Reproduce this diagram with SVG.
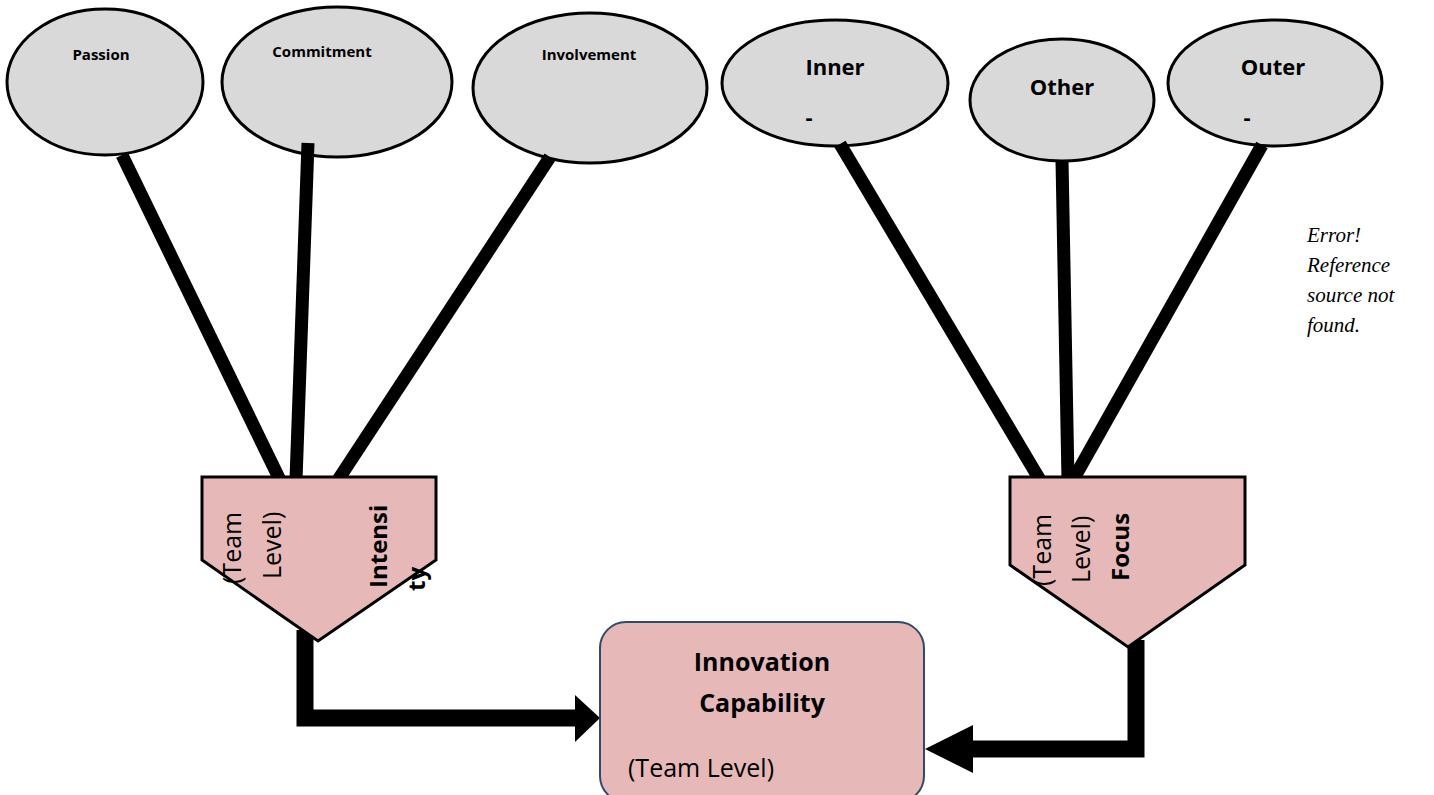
<svg xmlns="http://www.w3.org/2000/svg" width="1434" height="795" viewBox="0 0 1434 795">
<style>
.oval{fill:#d9d9d9;stroke:#000;stroke-width:3}
.pent{fill:#e6b9b8;stroke:#000;stroke-width:3}
.box{fill:#e6b9b8;stroke:#2f4a6b;stroke-width:2}
.sm{font-family:"Open Sans",sans-serif;font-weight:bold;font-size:15px;fill:#000;text-anchor:middle}
.lg{font-family:"Open Sans",sans-serif;font-weight:bold;font-size:22px;fill:#000;text-anchor:middle}
.rot{font-family:"Open Sans",sans-serif;font-size:25px;fill:#000}
.rotb{font-family:"Open Sans",sans-serif;font-size:24px;font-weight:bold;fill:#000}
.boxt{font-family:"Open Sans",sans-serif;font-weight:bold;font-size:25px;fill:#000;text-anchor:middle}
.err{font-family:"Liberation Serif",serif;font-style:italic;font-size:21px;fill:#000}
.ln{stroke:#000;stroke-width:13;fill:none}
.fl{stroke:#000;stroke-width:17;fill:none}
</style>
<g id="passion"><ellipse class="oval" cx="105" cy="82" rx="98" ry="73"/><text class="sm" x="101" y="60">Passion</text></g>
<g id="commitment"><ellipse class="oval" cx="337" cy="82" rx="115" ry="75"/><text class="sm" x="322" y="57">Commitment</text></g>
<g id="involvement"><ellipse class="oval" cx="590" cy="88" rx="117" ry="75"/><text class="sm" x="589" y="60">Involvement</text></g>
<g id="inner"><ellipse class="oval" cx="835" cy="83" rx="113" ry="63"/><text class="lg" x="835" y="75">Inner</text><text class="lg" x="809" y="125">-</text></g>
<g id="other"><ellipse class="oval" cx="1062" cy="100" rx="92" ry="61"/><text class="lg" x="1062" y="95">Other</text></g>
<g id="outer"><ellipse class="oval" cx="1275" cy="83" rx="107" ry="63"/><text class="lg" x="1273" y="75">Outer</text><text class="lg" x="1247" y="125">-</text></g>
<g id="connectors">
<line class="ln" x1="122" y1="155" x2="280" y2="480"/>
<line class="ln" x1="308" y1="143" x2="296" y2="480"/>
<line class="ln" x1="550" y1="157" x2="338" y2="480"/>
<line class="ln" x1="840" y1="144" x2="1040" y2="480"/>
<line class="ln" x1="1062" y1="160" x2="1068" y2="480"/>
<line class="ln" x1="1262" y1="145" x2="1073" y2="480"/>
<polyline class="fl" points="305,630 305,718 578,718"/>
<polygon points="575,695 600,718 575,742"/>
<polyline class="fl" points="1136,640 1136,749 970,749"/>
<polygon points="973,725 925,749 973,773"/>
</g>
<g id="intensity">
<polygon class="pent" points="202,477 436,477 436,560 318,641 202,560"/>
<text class="rot" transform="translate(241,584) rotate(-90)">(Team</text>
<text class="rot" transform="translate(281,579) rotate(-90)">Level)</text>
<text class="rotb" transform="translate(387,588) rotate(-90)">Intensi</text>
<text class="rotb" transform="translate(425,591) rotate(-90)">ty</text>
</g>
<g id="focus">
<polygon class="pent" points="1010,477 1245,477 1245,565 1128,647 1010,565"/>
<text class="rot" transform="translate(1051,586) rotate(-90)">(Team</text>
<text class="rot" transform="translate(1090,583) rotate(-90)">Level)</text>
<text class="rotb" transform="translate(1129,581) rotate(-90)">Focus</text>
</g>
<g id="innovation">
<rect class="box" x="600" y="622" width="324" height="180" rx="26"/>
<text class="boxt" x="762" y="671">Innovation</text>
<text class="boxt" x="762" y="712">Capability</text>
<text x="628" y="777" style="font-family:'Open Sans',sans-serif;font-size:25px;fill:#000">(Team Level)</text>
</g>
<g id="error-note">
<text class="err" x="1307" y="242">Error!</text>
<text class="err" x="1307" y="272">Reference</text>
<text class="err" x="1307" y="302">source not</text>
<text class="err" x="1307" y="332">found.</text>
</g>
</svg>
